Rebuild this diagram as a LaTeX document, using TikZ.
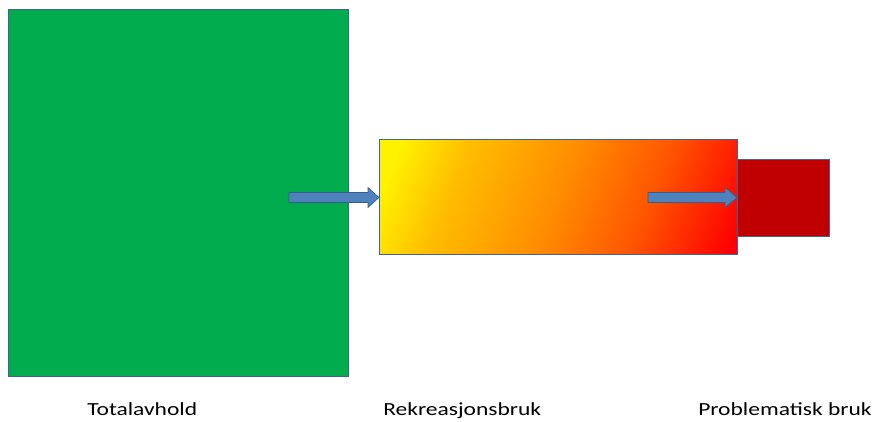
\documentclass[tikz,border=0pt]{standalone}
\usepackage{fontspec}
\setmainfont{Carlito}
\definecolor{boxgreen}{RGB}{0,172,78}
\definecolor{edgeblue}{RGB}{65,100,150}
\definecolor{darkred}{RGB}{192,0,0}
\definecolor{arrowfill}{RGB}{79,129,189}
\definecolor{arrowedge}{RGB}{56,93,138}
\definecolor{gy}{RGB}{255,242,0}
\definecolor{gyo}{RGB}{255,190,0}
\definecolor{go}{RGB}{255,140,0}
\definecolor{gro}{RGB}{255,85,0}
\definecolor{gr}{RGB}{255,0,0}
\pgfdeclarehorizontalshading{yor}{100bp}{color(0bp)=(gy); color(21bp)=(gy); color(32bp)=(gyo); color(50bp)=(go); color(65bp)=(gro); color(81bp)=(gr); color(100bp)=(gr)}
\tikzset{
  boxedge/.style={draw=edgeblue, line width=0.8pt},
  blockarrow/.style={fill=arrowfill, draw=arrowedge, line width=0.6pt},
  lbl/.style={font=\fontsize{18.5}{20}\selectfont, anchor=base west, inner sep=0pt, xscale=1.27, transform shape}
}
\begin{document}
\begin{tikzpicture}[x=1pt,y=-1pt]
\useasboundingbox (0,0) rectangle (874,421);
% boxes
\node[boxedge, fill=boxgreen, minimum width=340pt, minimum height=367pt, inner sep=0pt, anchor=north west] (total) at (8,9) {};
\node[boxedge, shading=yor, shading angle=-22, minimum width=358pt, minimum height=115pt, inner sep=0pt, anchor=north west] (rek) at (379,139) {};
\node[boxedge, fill=darkred, minimum width=92pt, minimum height=77pt, inner sep=0pt, anchor=north west] (prob) at (737,159) {};
% block arrows
\coordinate (a1s) at (289,197.5);
\coordinate (a2s) at (648,197.5);
\draw[blockarrow] (a1s) ++(0,-5) -- ++(79,0) -- ++(0,-5) -- (rek.west |- a1s) -- ++(-11,10) -- ++(0,-5) -- ++(-79,0) -- cycle;
\draw[blockarrow] (a2s) ++(0,-5) -- ++(77,0) -- ++(0,-5) -- (prob.west |- a2s) -- ++(-12,10) -- ++(0,-5) -- ++(-77,0) -- cycle;
% labels
\node[lbl] (l1) at (87,415) {Totalavhold};
\node[lbl] (l2) at (383,415) {Rekreasjonsbruk};
\node[lbl] (l3) at (698,415) {Problematisk bruk};
\end{tikzpicture}
\end{document}
